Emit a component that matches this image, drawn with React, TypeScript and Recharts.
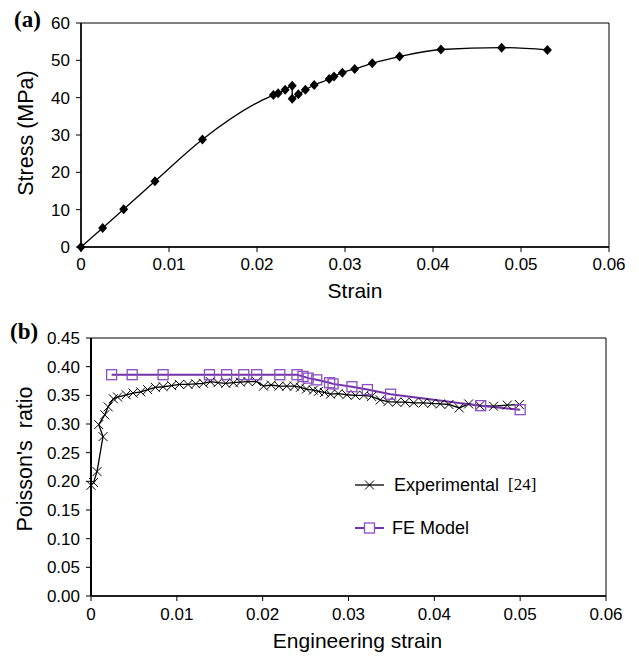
import React from 'react';
import { LineChart, Line, XAxis, YAxis, ReferenceArea, Label, Legend } from 'recharts';

// ---------- (a) stress-strain ----------
const stressStrain = [0, 0.00246, 0.00485, 0.0084, 0.0138, 0.02186, 0.0224, 0.0232, 0.024, 0.024, 0.0247, 0.0255, 0.0265, 0.0282, 0.02875, 0.0297, 0.0311, 0.0331, 0.0362, 0.0409, 0.0478, 0.053];
const stressMPa = [0, 5.1, 10.1, 17.6, 28.8, 40.7, 41.2, 42.1, 43.2, 39.7, 40.9, 42.1, 43.4, 45.0, 45.7, 46.7, 47.7, 49.2, 51.0, 52.9, 53.4, 52.8];
const strainTicks = [0, 0.01, 0.02, 0.03, 0.04, 0.05, 0.06];
const stressTicks = [0, 10, 20, 30, 40, 50, 60];

// ---------- (b) Poisson's ratio ----------
const expStrain = [0, 0.0003, 0.0007, 0.0014, 0.0009, 0.0016, 0.002, 0.0026, 0.0031, 0.0041, 0.0049, 0.0058, 0.0066, 0.0075, 0.0084, 0.0094, 0.0103, 0.0113, 0.0122, 0.0131, 0.0139, 0.0148, 0.0157, 0.0166, 0.0174, 0.0183, 0.0193, 0.0201, 0.021, 0.0219, 0.0228, 0.0237, 0.0244, 0.0251, 0.0259, 0.0265, 0.0272, 0.0279, 0.0288, 0.0298, 0.0308, 0.0318, 0.0327, 0.0337, 0.0346, 0.0356, 0.0366, 0.0376, 0.0387, 0.0397, 0.0407, 0.0417, 0.0429, 0.044, 0.0453, 0.0469, 0.0485, 0.0499];
const expRatio = [0.193, 0.198, 0.217, 0.278, 0.299, 0.316, 0.33, 0.344, 0.347, 0.351, 0.354, 0.356, 0.36, 0.364, 0.365, 0.367, 0.369, 0.369, 0.37, 0.371, 0.374, 0.372, 0.371, 0.372, 0.373, 0.374, 0.374, 0.366, 0.368, 0.366, 0.366, 0.366, 0.364, 0.361, 0.359, 0.357, 0.355, 0.352, 0.353, 0.351, 0.35, 0.35, 0.348, 0.342, 0.339, 0.338, 0.338, 0.337, 0.337, 0.336, 0.335, 0.334, 0.328, 0.335, 0.332, 0.331, 0.333, 0.334];
const feStrain = [0.0024, 0.0048, 0.0084, 0.0138, 0.0158, 0.0178, 0.0193, 0.022, 0.024, 0.0247, 0.0253, 0.0263, 0.0278, 0.0282, 0.0304, 0.0322, 0.0349, 0.0454, 0.05];
const feRatio = [0.386, 0.386, 0.386, 0.386, 0.386, 0.386, 0.386, 0.386, 0.386, 0.383, 0.38, 0.377, 0.372, 0.37, 0.365, 0.36, 0.352, 0.332, 0.325];
const ratioTicks = [0, 0.05, 0.1, 0.15, 0.2, 0.25, 0.3, 0.35, 0.4, 0.45];

const stressData = stressStrain.map((x, i) => ({ x, y: stressMPa[i] }));
const expData = expStrain.map((x, i) => ({ x, y: expRatio[i] }));
const feData = feStrain.map((x, i) => ({ x, y: feRatio[i] }));

const SANS = '"Liberation Sans", Arial, Helvetica, sans-serif';
const SERIF = '"Liberation Serif", "Times New Roman", serif';
const PURPLE_LINE = '#7232A8';
const PURPLE_MARK = '#8A4EC2';

const fmtStrain = (v: number) => (v === 0 ? '0' : v.toFixed(2));
const fmtRatio = (v: number) => v.toFixed(2);

const Diamond = (p: any) => {
  const { cx, cy, index } = p;
  if (cx == null || cy == null) return <g key={index} />;
  return <path key={index} d={`M${cx},${cy - 5}L${cx + 4.5},${cy}L${cx},${cy + 5}L${cx - 4.5},${cy}Z`} fill="#000" />;
};
const Cross = (p: any) => {
  const { cx, cy, index } = p;
  if (cx == null || cy == null) return <g key={index} />;
  return <path key={index} d={`M${cx - 4.5},${cy - 4.5}L${cx + 4.5},${cy + 4.5}M${cx - 4.5},${cy + 4.5}L${cx + 4.5},${cy - 4.5}`} stroke="#000" strokeWidth={1} fill="none" />;
};
const Square = (p: any) => {
  const { cx, cy, index } = p;
  if (cx == null || cy == null) return <g key={index} />;
  return <rect key={index} x={cx - 5} y={cy - 5} width={10} height={10} fill="none" stroke={PURPLE_MARK} strokeWidth={1.3} />;
};

const xTitle = (text: string, dy: number, dx: number) => (props: any) => {
  const vb = props.viewBox || { x: 0, y: 0, width: 0, height: 0 };
  return (
    <text x={vb.x + vb.width / 2 + dx} y={vb.y + dy} textAnchor="middle" fontSize={21} fontFamily={SANS} fill="#000">
      {text}
    </text>
  );
};
const yTitle = (text: string, cxOff: number, dy: number) => (props: any) => {
  const vb = props.viewBox || { x: 0, y: 0, width: 0, height: 0 };
  const x = vb.x + cxOff;
  const y = vb.y + vb.height / 2 + dy;
  return (
    <text x={x} y={y} transform={`rotate(-90 ${x} ${y})`} textAnchor="middle" dominantBaseline="central" fontSize={21.5} fontFamily={SANS} fill="#000" style={{ whiteSpace: 'pre' }}>
      {text}
    </text>
  );
};

const tickStyle = { fill: '#000', fontSize: 17, fontFamily: SANS };

const LegendContent = () => (
  <div style={{ position: 'relative', width: 230, height: 80, fontFamily: SANS, color: '#000' }}>
    <div style={{ position: 'absolute', left: 0, top: 0, height: 30, display: 'flex', alignItems: 'center' }}>
      <svg width={40} height={30} style={{ display: 'block' }}>
        <line x1={5} y1={15} x2={34} y2={15} stroke="#000" strokeWidth={1.3} />
        <path d="M15,10.5L24,19.5M15,19.5L24,10.5" stroke="#000" strokeWidth={1} />
      </svg>
      <span style={{ marginLeft: 4, fontSize: 18 }}>Experimental</span>
      <span style={{ marginLeft: 9, fontSize: 17, fontFamily: SERIF }}>[24]</span>
    </div>
    <div style={{ position: 'absolute', left: 0, top: 43, height: 30, display: 'flex', alignItems: 'center' }}>
      <svg width={40} height={30} style={{ display: 'block' }}>
        <line x1={5} y1={15} x2={34} y2={15} stroke={PURPLE_LINE} strokeWidth={2} />
        <rect x={14.5} y={10} width={10} height={10} fill="#fff" stroke={PURPLE_MARK} strokeWidth={1.3} />
      </svg>
      <span style={{ marginLeft: 2, fontSize: 18 }}>FE Model</span>
    </div>
  </div>
);

export default function App() {
  return (
    <div style={{ position: 'absolute', left: 0, top: 0, width: 639, height: 657, background: '#fff' }}>
      <div style={{ position: 'absolute', left: 14, top: 6, fontFamily: SERIF, fontWeight: 'bold', fontSize: 23, lineHeight: '28px' }}>(a)</div>
      <div style={{ position: 'absolute', left: 10, top: 318, fontFamily: SERIF, fontWeight: 'bold', fontSize: 23, lineHeight: '28px' }}>(b)</div>

      <div style={{ position: 'absolute', left: 0, top: 0 }}>
        <LineChart width={639} height={312} data={stressData} margin={{ top: 23, right: 30, bottom: 35, left: 0 }}>
          <XAxis dataKey="x" type="number" domain={[0, 0.06]} ticks={strainTicks} tickFormatter={fmtStrain} interval={0}
            tickSize={5} tickMargin={6} height={30} axisLine={{ stroke: '#000', strokeWidth: 1.5 }} tickLine={{ stroke: '#000' }} tick={tickStyle}>
            <Label content={xTitle('Strain', 51, 10)} />
          </XAxis>
          <YAxis type="number" domain={[0, 60]} ticks={stressTicks} interval={0} width={81}
            tickSize={5} tickMargin={6} axisLine={{ stroke: '#000', strokeWidth: 1.5 }} tickLine={{ stroke: '#000' }} tick={tickStyle}>
            <Label content={yTitle('Stress (MPa)', 26, -2)} />
          </YAxis>
          <ReferenceArea x1={0} x2={0.06} y1={0} y2={60} fill="none" fillOpacity={0} stroke="#000" strokeWidth={1} />
          <Line dataKey="y" type="monotone" stroke="#000" strokeWidth={1.3} dot={Diamond} activeDot={false} isAnimationActive={false} />
        </LineChart>
      </div>

      <div style={{ position: 'absolute', left: 0, top: 300 }}>
        <LineChart width={639} height={357} margin={{ top: 38, right: 33, bottom: 31, left: 0 }}>
          <XAxis dataKey="x" type="number" domain={[0, 0.06]} ticks={strainTicks} tickFormatter={fmtStrain} interval={0}
            tickSize={5} tickMargin={7} height={30} axisLine={{ stroke: '#000', strokeWidth: 1.5 }} tickLine={{ stroke: '#000' }} tick={tickStyle}>
            <Label content={xTitle('Engineering strain', 52, 9)} />
          </XAxis>
          <YAxis type="number" domain={[0, 0.45]} ticks={ratioTicks} tickFormatter={fmtRatio} interval={0} width={91}
            tickSize={5} tickMargin={6} axisLine={{ stroke: '#000', strokeWidth: 2 }} tickLine={{ stroke: '#000' }} tick={tickStyle}>
            <Label content={yTitle("Poisson's  ratio", 25, -8)} />
          </YAxis>
          <ReferenceArea x1={0} x2={0.06} y1={0} y2={0.45} fill="none" fillOpacity={0} stroke="#000" strokeWidth={1} />
          <Line data={expData} dataKey="y" type="linear" stroke="#000" strokeWidth={1.3} dot={Cross} activeDot={false} isAnimationActive={false} />
          <Line data={feData} dataKey="y" type="linear" stroke={PURPLE_LINE} strokeWidth={2} dot={Square} activeDot={false} isAnimationActive={false} />
          <Legend layout="vertical" align="center" verticalAlign="middle" content={LegendContent}
            wrapperStyle={{ left: 350, top: 170, width: 230, height: 80 }} />
        </LineChart>
      </div>
    </div>
  );
}
